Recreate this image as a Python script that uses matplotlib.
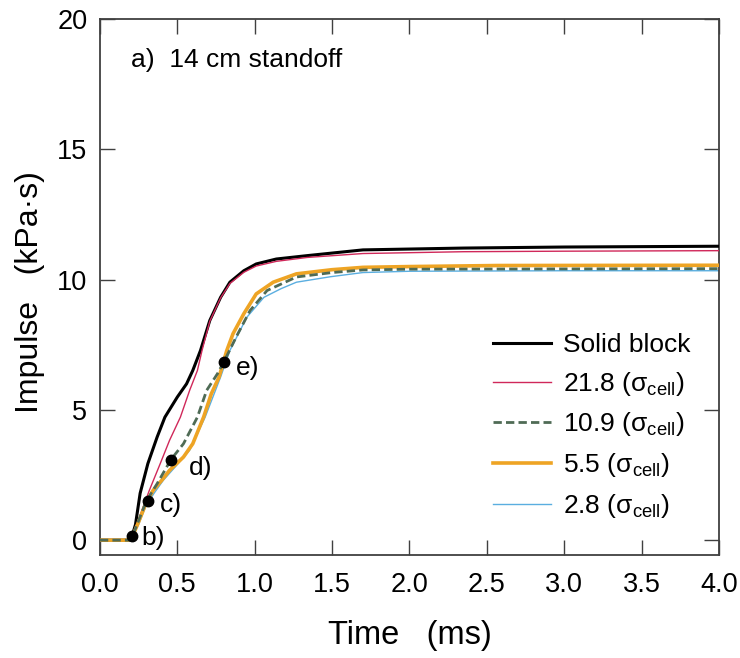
import matplotlib
matplotlib.use("Agg")
from matplotlib import pyplot as plt

plt.rcParams['font.family'] = ['Liberation Sans', 'DejaVu Sans']
plt.rcParams['mathtext.fontset'] = 'custom'
plt.rcParams['mathtext.rm'] = 'Liberation Sans'
plt.rcParams['mathtext.it'] = 'Liberation Sans:italic'
plt.rcParams['mathtext.sf'] = 'Liberation Sans'

# time (ms) and impulse (kPa*s)
t_solid = [0, 0.2, 0.23, 0.26, 0.31, 0.37, 0.42, 0.5, 0.56, 0.6, 0.65, 0.71, 0.78,
           0.84, 0.93, 1.01, 1.14, 1.34, 1.7, 2.35, 3.0, 4.0]
v_solid = [0, 0, 0.6, 1.8, 2.94, 3.96, 4.72, 5.49, 6.0, 6.51, 7.28, 8.43, 9.32,
           9.9, 10.34, 10.6, 10.79, 10.92, 11.14, 11.21, 11.25, 11.28]

t_218 = [0, 0.2, 0.25, 0.32, 0.39, 0.45, 0.52, 0.58, 0.63, 0.66, 0.71, 0.78, 0.84,
         0.93, 1.01, 1.14, 1.34, 1.7, 2.35, 3.0, 4.0]
v_218 = [0, 0, 0.8, 1.92, 2.94, 3.83, 4.72, 5.75, 6.51, 7.28, 8.4, 9.3, 9.85,
         10.28, 10.52, 10.7, 10.85, 11.0, 11.07, 11.09, 11.11]

t_109 = [0, 0.2, 0.25, 0.3, 0.37, 0.46, 0.54, 0.63, 0.69, 0.76, 0.8, 0.88, 0.97,
         1.08, 1.27, 1.5, 1.7, 2.0, 3.0, 4.0]
v_109 = [0, 0, 0.75, 1.5, 2.17, 3.1, 3.7, 4.72, 5.75, 6.39, 6.83, 7.79, 8.81,
         9.58, 10.1, 10.27, 10.37, 10.4, 10.41, 10.42]

t_55 = [0, 0.2, 0.25, 0.3, 0.345, 0.4, 0.45, 0.54, 0.6, 0.67, 0.72, 0.77, 0.82,
        0.86, 0.93, 1.01, 1.12, 1.27, 1.5, 1.7, 2.0, 2.57, 4.0]
v_55 = [0, 0, 0.7, 1.45, 1.92, 2.3, 2.68, 3.19, 3.7, 4.72, 5.62, 6.26, 7.28,
        7.92, 8.69, 9.45, 9.9, 10.22, 10.38, 10.47, 10.5, 10.54, 10.55]

t_28 = [0, 0.2, 0.25, 0.3, 0.35, 0.41, 0.5, 0.58, 0.68, 0.78, 0.84, 0.95, 1.06,
        1.17, 1.27, 1.49, 1.7, 2.0, 3.0, 4.0]
v_28 = [0, 0, 0.6, 1.35, 1.8, 2.3, 2.9, 3.45, 4.72, 6.26, 7.28, 8.56, 9.32,
        9.65, 9.9, 10.11, 10.27, 10.32, 10.34, 10.34]

mark_t = [0.205, 0.31, 0.46, 0.80]
mark_v = [0.17, 1.51, 3.09, 6.83]
mark_labels = ['b)', 'c)', 'd)', 'e)']
# text offsets of the marker labels, in points
mark_offsets = [(7, -1.5), (9, -3), (13, -6), (9, -4.5)]

fig = plt.figure(figsize=(7.4, 6.58), dpi=100)
ax = fig.add_axes([0.135, 0.1565, 0.8365, 0.8146])

ax.plot(t_solid, v_solid, color='black', lw=2.2, label='Solid block', zorder=5)
ax.plot(t_218, v_218, color='#d0285a', lw=1.0, label='21.8 (σ$_{\\rm cell}$)', zorder=6)
ax.plot(t_109, v_109, color='#4f6b55', lw=2.0, ls=(0, (3, 1.5)),
        label='10.9 (σ$_{\\rm cell}$)', zorder=8)
ax.plot(t_55, v_55, color='#eea424', lw=2.6, label='5.5 (σ$_{\\rm cell}$)', zorder=7)
ax.plot(t_28, v_28, color='#5aaee0', lw=1.0, label='2.8 (σ$_{\\rm cell}$)', zorder=2)

ax.plot(mark_t, mark_v, 'o', color='black', ms=7.5, zorder=10)
for t, v, s, off in zip(mark_t, mark_v, mark_labels, mark_offsets):
    ax.annotate(s, (t, v), xytext=off, textcoords='offset points',
                fontsize=19, va='center', ha='left', zorder=11)

ax.text(0.05, 0.923, 'a)  14 cm standoff', transform=ax.transAxes,
        fontsize=19, va='center', ha='left')

ax.set_xlim(0, 4.0)
ax.set_ylim(-0.57, 20)
ax.set_xticks([0, 0.5, 1.0, 1.5, 2.0, 2.5, 3.0, 3.5, 4.0])
ax.set_xticklabels(['0.0', '0.5', '1.0', '1.5', '2.0', '2.5', '3.0', '3.5', '4.0'])
ax.set_yticks([0, 5, 10, 15, 20])

ax.tick_params(direction='in', length=11, width=1, colors='#404040',
               labelcolor='black', labelsize=19.5, top=True, right=True)
ax.tick_params(axis='x', pad=12)
ax.tick_params(axis='y', pad=9)
for sp in ax.spines.values():
    sp.set_color('#404040')
    sp.set_linewidth(1.3)

ax.set_xlabel('Time   (ms)', fontsize=23.5, labelpad=16)
ax.set_ylabel('Impulse   (kPa·s)', fontsize=23, y=0.49, labelpad=9)

ax.legend(loc='upper left', bbox_to_anchor=(0.635, 0.414), frameon=False,
          fontsize=19, handlelength=2.2, handletextpad=0.45, labelspacing=0.48,
          borderpad=0, borderaxespad=0)

fig.savefig('out.png', dpi=100)
